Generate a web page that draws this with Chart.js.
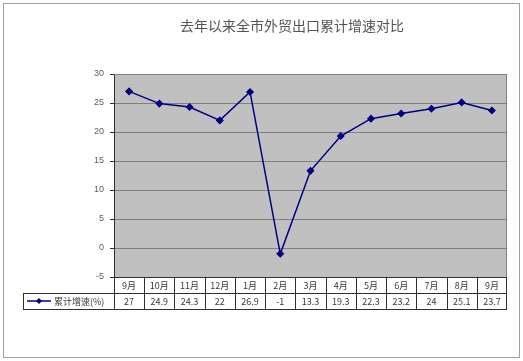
<!DOCTYPE html>
<html>
<head>
<meta charset="utf-8">
<script src="https://cdn.jsdelivr.net/npm/chart.js@4/dist/chart.umd.min.js"></script>
<style>
  body { margin: 0; background: #fff; }
  #wrap { width: 523px; height: 361px; position: relative; }
</style>
</head>
<body>
<div id="wrap"><canvas id="exportChart" width="523" height="361"></canvas></div>
<script>
// chart data
var months = ['9月', '10月', '11月', '12月', '1月', '2月', '3月', '4月', '5月', '6月', '7月', '8月', '9月'];
var growth = [27, 24.9, 24.3, 22, 26.9, -1, 13.3, 19.3, 22.3, 23.2, 24, 25.1, 23.7];
var seriesName = '累计增速(%)';
var chartTitle = '去年以来全市外贸出口累计增速对比';

var cjk = '"Noto Sans CJK SC", sans-serif';

// draws the grey plot background, title, outer frame and the data table
var excelLook = {
    id: 'excelLook',
    beforeDraw: function (chart) {
        var c = chart.ctx, a = chart.chartArea;
        c.save();
        c.fillStyle = '#c0c0c0';
        c.fillRect(a.left, a.top, a.right - a.left, a.bottom - a.top);
        c.restore();
    },
    afterDraw: function (chart) {
        var c = chart.ctx, a = chart.chartArea, x = chart.scales.x;
        c.save();
        // outer frame
        c.strokeStyle = '#a0a0a0';
        c.lineWidth = 1;
        c.strokeRect(3.5, 3.5, 516, 354);
        // title
        c.fillStyle = '#555555';
        c.font = '14px ' + cjk;
        c.textAlign = 'center';
        c.textBaseline = 'middle';
        c.fillText(chartTitle, 292, 26);
        // plot frame (top/right)
        c.strokeStyle = '#808080';
        c.beginPath();
        c.moveTo(a.left, a.top + 0.5); c.lineTo(a.right - 0.5, a.top + 0.5); c.lineTo(a.right - 0.5, a.bottom);
        c.stroke();

        // table
        var r0 = a.bottom, r1 = a.bottom + 16, r2 = a.bottom + 32;
        var step = (a.right - a.left) / months.length;
        c.strokeStyle = '#303030';
        c.beginPath();
        c.moveTo(a.left, r0 + 0.5); c.lineTo(a.right, r0 + 0.5);
        c.moveTo(23, r1 + 0.5); c.lineTo(a.right, r1 + 0.5);
        c.moveTo(23, r2 + 0.5); c.lineTo(a.right, r2 + 0.5);
        c.moveTo(23.5, r1); c.lineTo(23.5, r2);
        for (var i = 0; i <= months.length; i++) {
            var xx = Math.round(a.left + i * step) + 0.5;
            if (i === months.length) xx = a.right - 0.5;
            c.moveTo(xx, r0); c.lineTo(xx, r2);
        }
        c.stroke();

        c.fillStyle = '#383838';
        c.font = '9px ' + cjk;
        for (var j = 0; j < months.length; j++) {
            var cx = x.getPixelForValue(j);
            c.fillText(months[j], cx, (r0 + r1) / 2 + 1);
            c.fillText(String(growth[j]), cx, (r1 + r2) / 2 + 1);
        }
        // legend key
        var ly = (r1 + r2) / 2;
        c.strokeStyle = '#000080';
        c.lineWidth = 1.5;
        c.beginPath(); c.moveTo(27, ly); c.lineTo(51, ly); c.stroke();
        c.fillStyle = '#000080';
        c.beginPath();
        c.moveTo(39, ly - 3); c.lineTo(42, ly); c.lineTo(39, ly + 3); c.lineTo(36, ly); c.closePath();
        c.fill();
        c.fillStyle = '#383838';
        c.textAlign = 'left';
        c.fillText(seriesName, 54, ly + 1);
        c.restore();
    }
};

var ctx = document.getElementById('exportChart').getContext('2d');
var exportChart = new Chart(ctx, {
    type: 'line',
    data: {
        labels: months,
        datasets: [{
            label: seriesName,
            data: growth,
            borderColor: '#000080',
            backgroundColor: '#000080',
            borderWidth: 1.5,
            pointStyle: 'rectRot',
            pointRadius: 3,
            tension: 0
        }]
    },
    options: {
        responsive: false,
        animation: false,
        layout: { padding: { top: 74, bottom: 84, right: 16, left: 0 } },
        plugins: { legend: { display: false }, tooltip: { enabled: false } },
        scales: {
            x: {
                offset: true,
                display: false
            },
            y: {
                min: -5,
                max: 30,
                ticks: {
                    stepSize: 5,
                    padding: 6,
                    color: '#606060',
                    font: { family: '"Liberation Sans", Arial', size: 9 }
                },
                grid: { color: '#808080', tickLength: 4, tickColor: '#303030' },
                border: { color: '#303030' },
                afterFit: function (s) { s.width = 114; }
            }
        }
    },
    plugins: [excelLook]
});
</script>
</body>
</html>
